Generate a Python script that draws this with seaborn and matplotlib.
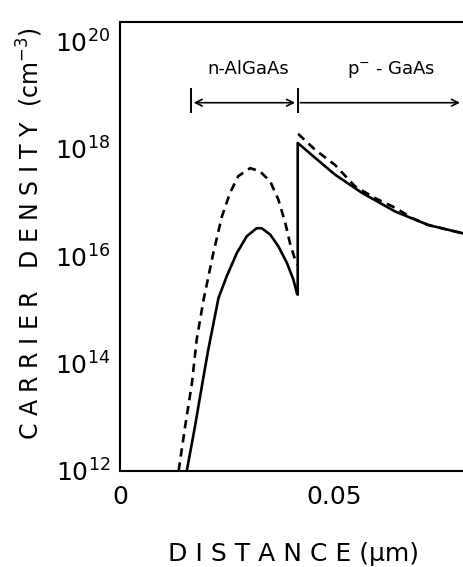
import numpy as np
import pandas as pd
import matplotlib
matplotlib.use("Agg")
import matplotlib.pyplot as plt
import seaborn as sns
from matplotlib.ticker import FixedLocator, FixedFormatter, NullFormatter

# Electron density profile across the n-AlGaAs / p--GaAs heterojunction
# (log10 of carrier density in cm^-3 versus distance in micrometres)
x_solid = [0.0156, 0.0175, 0.0191, 0.0206, 0.0230, 0.0249, 0.0273, 0.0296,
           0.0319, 0.0331, 0.0351, 0.0370, 0.0390, 0.0405, 0.0413, 0.0415,
           0.0415, 0.0456, 0.0502, 0.0565, 0.0643, 0.0720, 0.0798, 0.0810]
logn_solid = [12.00, 12.82, 13.57, 14.25, 15.22, 15.62, 16.06, 16.37,
              16.52, 16.52, 16.40, 16.18, 15.87, 15.56, 15.31, 15.28,
              18.11, 17.83, 17.52, 17.18, 16.83, 16.58, 16.43, 16.41]

x_dash_left = [0.0137, 0.0152, 0.0168, 0.0179, 0.0195, 0.0218, 0.0238, 0.0257,
               0.0276, 0.0304, 0.0327, 0.0351, 0.0370, 0.0386, 0.0397, 0.0409,
               0.0415]
logn_dash_left = [12.00, 12.82, 13.63, 14.44, 15.18, 16.06, 16.74, 17.18,
                  17.49, 17.64, 17.58, 17.39, 17.05, 16.62, 16.24, 15.93,
                  15.84]
x_dash_right = [0.0416, 0.0456, 0.0502, 0.0549, 0.0596, 0.0643, 0.0682,
                0.0720, 0.0798, 0.0810]
logn_dash_right = [18.28, 17.98, 17.70, 17.30, 17.08, 16.90, 16.71,
                   16.58, 16.43, 16.41]

y_major = [12, 14, 16, 18, 20]
y_minor = [13, 15, 17, 19]
x_major = [0.0, 0.05]
x_major_labels = ["0", "0.05"]
x_minor = [0.01, 0.02, 0.03, 0.04, 0.06, 0.07, 0.08]

layer_bounds = [0.0166, 0.0415, 0.0794]
layer_names = ["n-AlGaAs", r"p$^{-}$ - GaAs"]

sns.set_theme(style="white")
plt.rcParams["font.family"] = ["DejaVu Sans"]
plt.rcParams["mathtext.default"] = "regular"

frames = []
for seg, (xs, ys, kind) in enumerate([(x_solid, logn_solid, "solid"),
                                      (x_dash_left, logn_dash_left, "dashed"),
                                      (x_dash_right, logn_dash_right, "dashed")]):
    frames.append(pd.DataFrame({"x": xs, "n": np.power(10.0, ys),
                                "kind": kind, "seg": seg}))
df = pd.concat(frames, ignore_index=True)

fig = plt.figure(figsize=(4.63, 5.67), dpi=100)
ax_w = 1 - 120 / 463 + 0.01
ax = fig.add_axes([120 / 463, 1 - 470.7 / 567, ax_w, (470.7 - 21.7) / 567])

sns.lineplot(data=df, x="x", y="n", style="kind", units="seg",
             estimator=None, sort=False, color="black", lw=1.9,
             dashes={"solid": "", "dashed": (3.2, 2.2)}, legend=False, ax=ax)

ax.set_yscale("log")
ax.set_xlim(0, 0.0801 + 0.01 * 0.01 * 463 / 42.8)
ax.set_ylim(1e12, 10 ** 20.37)

ax.yaxis.set_major_locator(FixedLocator([10.0 ** e for e in y_major]))
ax.yaxis.set_major_formatter(FixedFormatter(
    [r"$\mathregular{10^{%d}}$" % e for e in y_major]))
ax.yaxis.set_minor_locator(FixedLocator([10.0 ** e for e in y_minor]))
ax.yaxis.set_minor_formatter(NullFormatter())
ax.xaxis.set_major_locator(FixedLocator(x_major))
ax.xaxis.set_major_formatter(FixedFormatter(x_major_labels))
ax.xaxis.set_minor_locator(FixedLocator(x_minor))

ax.tick_params(axis="both", which="both", direction="in", color="black",
               width=1.3, labelsize=18, labelcolor="black")
ax.tick_params(axis="y", which="both", length=7, pad=7)
ax.tick_params(axis="x", which="both", length=5, pad=10)

for side in ["left", "bottom", "top"]:
    ax.spines[side].set_color("black")
    ax.spines[side].set_linewidth(1.5)
ax.spines["right"].set_visible(False)

ax_px = ax_w * 463
ax.set_xlabel("D I S T A N C E (µm)", fontsize=18, color="black")
ax.xaxis.set_label_coords((293 - 120) / ax_px, (470.7 - 554) / 449)
ax.xaxis.label.set_va("center")
ax.set_ylabel("C A R R I E R   D E N S I T Y  (cm$^{-3}$)", fontsize=17,
              color="black")
ax.yaxis.set_label_coords((30 - 120) / ax_px, (470.7 - 234) / 449)
ax.yaxis.label.set_va("center")

# layer markers and arrows
y_arrow = 10 ** 18.86
ax.vlines(layer_bounds[:2], 10 ** 18.66, 10 ** 19.13, color="black", lw=1.4)
ax.annotate("", xy=(layer_bounds[1] - 0.0006, y_arrow),
            xytext=(layer_bounds[0] + 0.0006, y_arrow),
            arrowprops=dict(arrowstyle="<->", lw=1.2, color="black",
                            shrinkA=0, shrinkB=0, mutation_scale=12))
ax.annotate("", xy=(layer_bounds[2], y_arrow),
            xytext=(layer_bounds[1] + 0.0006, y_arrow),
            arrowprops=dict(arrowstyle="->", lw=1.2, color="black",
                            shrinkA=0, shrinkB=0, mutation_scale=12))
ax.text(0.0300, 10 ** 19.48, layer_names[0], ha="center", va="center",
        fontsize=13, color="black")
ax.text(0.0633, 10 ** 19.48, layer_names[1], ha="center", va="center",
        fontsize=13, color="black")

fig.savefig("out.png", dpi=100, facecolor="white")
